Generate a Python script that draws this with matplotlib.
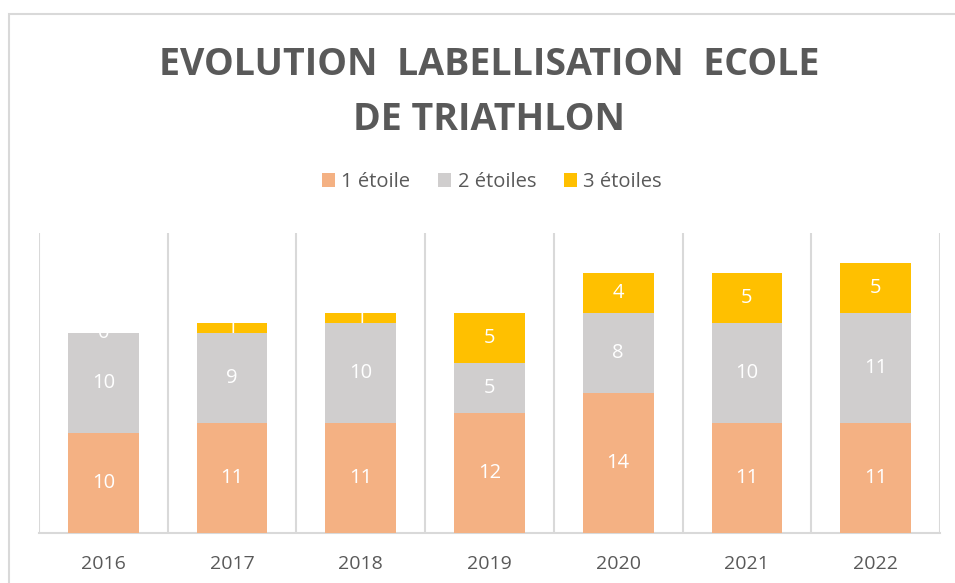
import numpy as np
import matplotlib.pyplot as plt
from matplotlib.patches import Rectangle

# data
annees = ['2016', '2017', '2018', '2019', '2020', '2021', '2022']
une_etoile = [10, 11, 11, 12, 14, 11, 11]
deux_etoiles = [10, 9, 10, 5, 8, 10, 11]
trois_etoiles = [0, 1, 1, 5, 4, 5, 5]

couleurs = ['#F4B183', '#D0CECE', '#FFC000']
noms = ['1 étoile', '2 étoiles', '3 étoiles']

plt.rcParams['font.family'] = ['Open Sans', 'DejaVu Sans']

fig = plt.figure(figsize=(9.55, 5.83), dpi=100)
# chart border (light grey frame)
fig.patches.append(Rectangle((9/955, -0.1), 1.2, 1 - 14/583 + 0.1, transform=fig.transFigure,
                             fill=False, edgecolor='#D9D9D9', linewidth=1.5))

ax = fig.add_axes([39/955, 50/583, 901/955, 300/583])
x = np.arange(len(annees))
bas = np.zeros(len(annees))
for vals, c, nom in zip([une_etoile, deux_etoiles, trois_etoiles], couleurs, noms):
    ax.bar(x, vals, width=0.55, bottom=bas, color=c, label=nom, zorder=3)
    for xi, b, v in zip(x, bas, vals):
        ax.text(xi, b + v / 2, str(v), ha='center', va='center', color='white',
                fontsize=14.5, zorder=4)
    bas = bas + np.array(vals)

ax.set_xlim(-0.5, len(annees) - 0.5)
ax.set_ylim(0, 30)
for g in np.arange(-0.5, len(annees), 1):
    ax.axvline(g, color='#D9D9D9', linewidth=1.5, zorder=1)
for s in ['top', 'right', 'left']:
    ax.spines[s].set_visible(False)
ax.spines['bottom'].set_color('#D9D9D9')
ax.spines['bottom'].set_linewidth(1.5)
ax.set_yticks([])
ax.set_xticks(x)
ax.set_xticklabels(annees, color='#595959', fontsize=14)
ax.tick_params(axis='x', length=0, pad=16)

fig.text(489/955, 1 - 75/583, 'EVOLUTION  LABELLISATION  ECOLE', ha='center', va='baseline',
         fontsize=27, fontweight='bold', color='#595959')
fig.text(489/955, 1 - 130/583, 'DE TRIATHLON', ha='center', va='baseline',
         fontsize=27, fontweight='bold', color='#595959')

fig.legend(loc='center', bbox_to_anchor=(492/955, 1 - 182/583), ncol=3, frameon=False,
           fontsize=14.5, labelcolor='#595959', handlelength=0.65, handleheight=0.65,
           handletextpad=0.3, columnspacing=1.4)

fig.savefig('out.png', dpi=100)
